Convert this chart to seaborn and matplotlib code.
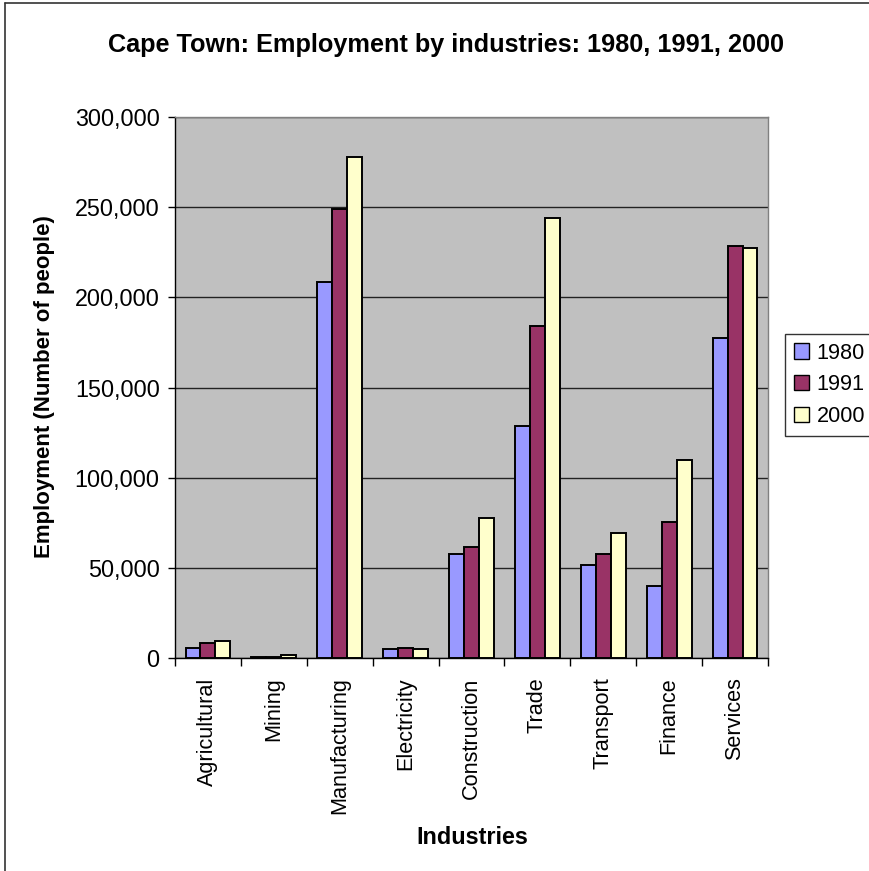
import matplotlib
matplotlib.use("Agg")
import matplotlib.pyplot as plt
from matplotlib.ticker import FuncFormatter, FixedLocator
from matplotlib.patches import Patch
from matplotlib.lines import Line2D
import seaborn as sns
import pandas as pd
import numpy as np

industries = ["Agricultural", "Mining", "Manufacturing", "Electricity", "Construction",
              "Trade", "Transport", "Finance", "Services"]
years = ["1980", "1991", "2000"]
emp_1980 = [5700, 600, 208300, 5000, 57400, 128400, 51700, 40000, 177600]
emp_1991 = [8200, 600, 249000, 5700, 61700, 184000, 57400, 75500, 228300]
emp_2000 = [9300, 1700, 278000, 4800, 77400, 244000, 69200, 110000, 227500]
colors = ["#9999FF", "#993366", "#FFFFCC"]

df = pd.DataFrame({
    "Industry": industries * 3,
    "Year": sum([[y] * len(industries) for y in years], []),
    "Employment": emp_1980 + emp_1991 + emp_2000,
})

sns.set_style("white")
plt.rcParams["font.family"] = ["Liberation Sans", "DejaVu Sans"]
plt.rcParams["text.color"] = "black"
plt.rcParams["xtick.color"] = "black"
plt.rcParams["ytick.color"] = "black"

fig = plt.figure(figsize=(8.7, 8.71), dpi=100)
ax = fig.add_axes([175 / 870, 1 - 658 / 871, (768 - 175) / 870, (658 - 117) / 871])

sns.barplot(data=df, x="Industry", y="Employment", hue="Year", order=industries,
            hue_order=years, palette=colors, width=0.68, gap=0, saturation=1,
            edgecolor="black", linewidth=1.4, legend=False, ax=ax, zorder=3)

ax.set_facecolor("#C0C0C0")
ax.set_ylim(0, 300000)
ax.set_xlim(-0.5, len(industries) - 0.5)
ax.set_yticks(np.arange(0, 300001, 50000))
ax.yaxis.set_major_formatter(FuncFormatter(lambda v, p: f"{int(v):,}"))
ax.grid(axis="y", color="#222222", linewidth=1.0, zorder=1)
ax.set_axisbelow(True)

for s in ["top", "right"]:
    ax.spines[s].set_color("#808080")
    ax.spines[s].set_linewidth(1.0)
for s in ["left", "bottom"]:
    ax.spines[s].set_color("black")
    ax.spines[s].set_linewidth(1.0)

ax.tick_params(axis="y", which="major", direction="out", length=5, width=1,
               color="black", labelcolor="black", labelsize=16.8, pad=6, left=True)
ax.tick_params(axis="x", which="major", length=0, labelsize=15.6, labelcolor="black", pad=14)
ax.xaxis.set_minor_locator(FixedLocator(np.arange(-0.5, len(industries), 1.0)))
ax.tick_params(axis="x", which="minor", direction="out", length=6, width=1,
               color="black", bottom=True)
for lbl in ax.get_xticklabels():
    lbl.set_rotation(90)
    lbl.set_va("top")
    lbl.set_ha("center")

ax.set_xlabel("")
ax.set_ylabel("")
fig.text(472 / 870, 1 - 837 / 871, "Industries", ha="center", va="center",
         fontsize=16.8, fontweight="bold")
fig.text(45 / 870, 1 - 387 / 871, "Employment (Number of people)", ha="center",
         va="center", rotation=90, fontsize=16.0, fontweight="bold")
fig.text(446 / 870, 1 - 45 / 871, "Cape Town: Employment by industries: 1980, 1991, 2000",
         ha="center", va="center", fontsize=18.2, fontweight="bold")

handles = [Patch(facecolor=c, edgecolor="black", linewidth=1.0) for c in colors]
leg = fig.legend(handles, years, loc="center left",
                 bbox_to_anchor=(785 / 870, 1 - 385 / 871), frameon=True,
                 fontsize=15.6, handlelength=0.7, handleheight=0.7, handletextpad=0.35,
                 borderpad=0.4, labelspacing=0.5, fancybox=False, borderaxespad=0)
leg.get_frame().set_edgecolor("black")
leg.get_frame().set_linewidth(1.0)

# chart frame (top and left edges)
fig.add_artist(Line2D([5 / 870, 1.0], [1 - 3 / 871, 1 - 3 / 871], transform=fig.transFigure,
                      color="#333333", linewidth=1.2))
fig.add_artist(Line2D([5 / 870, 5 / 870], [0.0, 1 - 3 / 871], transform=fig.transFigure,
                      color="#333333", linewidth=1.2))

fig.savefig("out.png", dpi=100, facecolor="white")
